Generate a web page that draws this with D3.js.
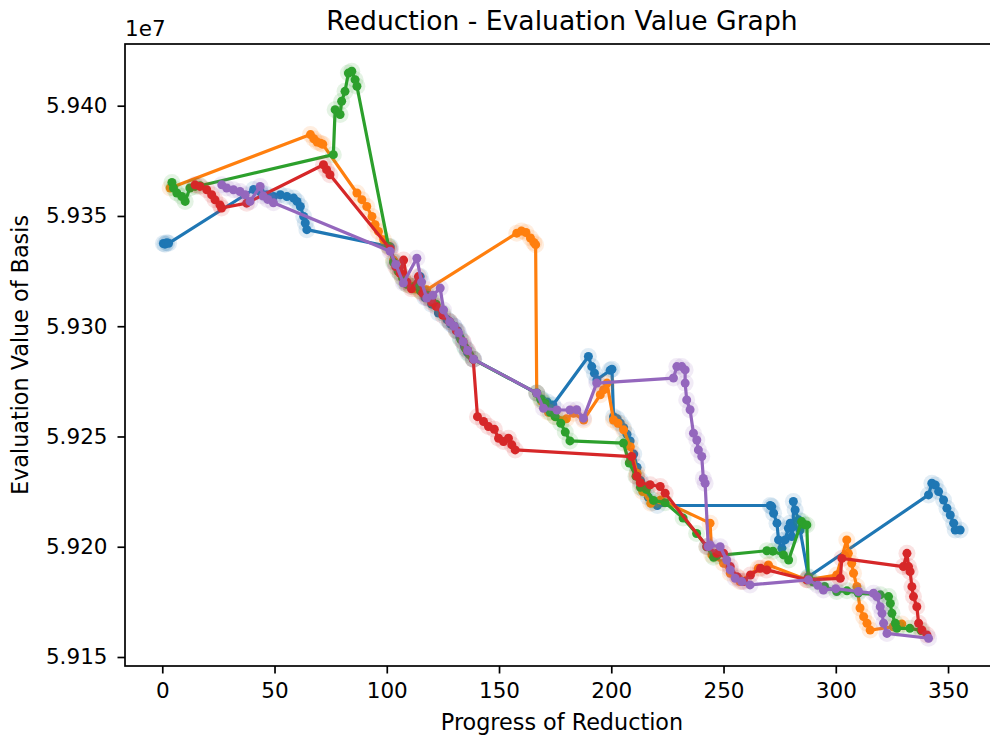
<!DOCTYPE html>
<html>
<head>
<meta charset="utf-8">
<script src="https://cdn.jsdelivr.net/npm/d3@7"></script>
<style>
  body { margin: 0; background: #fff; }
  text { font-family: "DejaVu Sans", sans-serif; fill: #000; }
</style>
</head>
<body>
<div id="chart"></div>
<script>
// Chart data, y values are raw evaluation values
var seriesNames = ["run 1", "run 2", "run 3", "run 4", "run 5"];
var seriesColors = ["#1f77b4", "#ff7f0e", "#2ca02c", "#d62728", "#9467bd"];

var blueX = [0.5, 1.2, 2.0, 2.8, 40.7, 43.7, 46.6, 49.6, 52.6, 55.5, 58.5, 60.0, 61.5, 63.0, 63.7, 64.4,
  101.6, 103.5, 106, 108, 111, 114.9, 117, 120, 123, 126.8, 128.5, 130, 131.5, 132.6, 134.5, 136, 138.7,
  166.8, 169, 171.5, 174, 189.8, 191.3, 192.5, 193.6, 199.5, 200.3, 201, 202.6, 204, 205.5, 207, 208.4,
  210, 211.5, 213, 214.5, 216.5, 218.5, 220.5, 270.8, 271.5, 272.3, 273.8, 274.5, 276.0, 277.4, 278.9,
  279.7, 280.4, 281.1, 281.1, 281.9, 283.4, 284.1, 287.8, 341.3, 342.8, 344.3, 345.8, 348.0, 349.5,
  351, 352.5, 353.2, 355.4];
var blueY = [5.93375e7, 5.93372e7, 5.93378e7, 5.93376e7, 5.9362e7, 5.9361e7, 5.93596e7, 5.93588e7,
  5.93596e7, 5.93588e7, 5.93581e7, 5.93566e7, 5.93543e7, 5.93498e7, 5.93468e7, 5.93438e7,
  5.9336e7, 5.9329e7, 5.9324e7, 5.9320e7, 5.9318e7, 5.93225e7, 5.9313e7, 5.9310e7, 5.9306e7, 5.9303e7,
  5.9301e7, 5.9300e7, 5.9298e7, 5.9295e7, 5.9291e7, 5.9288e7, 5.9285e7,
  5.92696e7, 5.9267e7, 5.92656e7, 5.92643e7, 5.92863e7, 5.92817e7, 5.92787e7, 5.92757e7, 5.9280e7,
  5.92805e7, 5.9259e7, 5.9258e7, 5.9256e7, 5.9254e7, 5.9251e7, 5.9248e7,
  5.9242e7, 5.9236e7, 5.9230e7, 5.9226e7, 5.92225e7, 5.9220e7, 5.92187e7, 5.92187e7, 5.92182e7,
  5.92152e7, 5.92107e7, 5.92031e7, 5.91993e7, 5.92031e7, 5.92084e7,
  5.92107e7, 5.92046e7, 5.92091e7, 5.92205e7, 5.92167e7, 5.92122e7, 5.92076e7, 5.91864e7, 5.92235e7,
  5.92288e7, 5.9228e7, 5.9225e7, 5.92212e7, 5.92175e7,
  5.92144e7, 5.92107e7, 5.92076e7, 5.92076e7];

var orangeX = [3.5, 66, 67.5, 69, 70.5, 71.5, 86.7, 88.9, 91.1, 93.4, 94.8, 96.3, 98.6, 100.8, 103, 105,
  107, 109, 111, 113, 115, 117.8, 157.9, 160, 162, 164, 165.5, 166.3, 166.8, 169, 172, 175, 180, 183.2,
  187.7, 195.1, 196.6, 198.1, 201, 203, 205.5, 208.5, 211.5, 214, 217.6, 222, 244, 244.8, 250, 253,
  256.7, 257.4, 265.5, 270, 287.1, 300.4, 304.9, 305.6, 307.1, 307.9, 309.4, 310.8, 312.4, 313.9,
  315.3, 325.6, 329.4];
var orangeY = [5.93627e7, 5.93869e7, 5.9385e7, 5.93835e7, 5.9383e7, 5.93825e7, 5.93604e7, 5.93574e7,
  5.93543e7, 5.93498e7, 5.9346e7, 5.9343e7, 5.93392e7, 5.93362e7, 5.9330e7, 5.9326e7,
  5.9322e7, 5.9319e7, 5.9318e7, 5.9317e7, 5.9316e7, 5.93165e7, 5.93422e7, 5.93432e7, 5.93425e7,
  5.9340e7, 5.9338e7, 5.9337e7, 5.92697e7, 5.9266e7, 5.9261e7, 5.9259e7, 5.9258e7, 5.92605e7,
  5.92575e7, 5.92689e7, 5.92712e7, 5.92742e7, 5.92575e7, 5.9256e7, 5.9253e7, 5.92454e7, 5.92333e7,
  5.9225e7, 5.92197e7, 5.92212e7, 5.92107e7, 5.91963e7, 5.91925e7, 5.9188e7,
  5.91857e7, 5.91842e7, 5.91902e7, 5.91917e7, 5.9185e7, 5.91872e7, 5.92031e7, 5.9197e7, 5.91925e7,
  5.9188e7, 5.9182e7, 5.91722e7, 5.91683e7, 5.91653e7,
  5.91622e7, 5.91637e7, 5.9165e7];

var greenX = [4.3, 5.0, 6.5, 8.7, 10.2, 12.3, 14.6, 16.8, 76.2, 77, 79.2, 79.9, 81.4, 82.9, 84.4, 85.9,
  86.7, 100.8, 103, 105, 107, 109, 112.6, 115, 118, 120, 122, 125, 128, 131, 133, 135, 137, 138.5,
  166.8, 168.5, 170.5, 172.8, 175, 177.5, 179.5, 181.6, 205.4, 208, 211, 213, 215.6, 218.8, 224, 232,
  238, 242.5, 245.6, 247, 269.3, 272, 276.7, 279, 284.8, 286, 287.1, 287.8, 290, 295, 300.4, 305, 310,
  319.8, 323.5, 324.3, 325, 326.5, 327.2, 333, 338];
var greenY = [5.93652e7, 5.93627e7, 5.93604e7, 5.93588e7, 5.93566e7, 5.93627e7, 5.93634e7, 5.93637e7,
  5.93778e7, 5.93982e7, 5.9396e7, 5.9402e7, 5.94065e7, 5.94148e7, 5.94156e7, 5.94118e7,
  5.94088e7, 5.93362e7, 5.9329e7, 5.9325e7, 5.9322e7, 5.9319e7, 5.93182e7, 5.9316e7, 5.9314e7,
  5.9312e7, 5.9310e7, 5.9306e7, 5.9302e7, 5.9298e7, 5.9294e7, 5.9290e7, 5.9287e7, 5.9285e7,
  5.92697e7, 5.9267e7, 5.9265e7, 5.9261e7, 5.9259e7, 5.9256e7, 5.9252e7, 5.9248e7, 5.9247e7,
  5.9238e7, 5.9232e7, 5.9227e7, 5.9226e7, 5.9221e7, 5.9220e7, 5.9213e7,
  5.9206e7, 5.9200e7, 5.91952e7, 5.9196e7, 5.91982e7, 5.9198e7, 5.91963e7, 5.9194e7, 5.92114e7,
  5.9210e7, 5.92099e7, 5.9186e7, 5.9184e7, 5.9182e7, 5.91797e7, 5.9180e7, 5.9179e7,
  5.91782e7, 5.91774e7, 5.91743e7, 5.91698e7, 5.91653e7, 5.9163e7, 5.9163e7, 5.9162e7];

var redX = [14.6, 16.8, 19.8, 22, 23.5, 25.7, 26.4, 37.6, 71.8, 73.2, 74.7, 101.5, 104, 106, 107.5, 109,
  111, 114.1, 116, 118, 120, 122, 125, 128, 131, 134, 136, 138.5, 140.4, 143.1, 145.3, 147.9, 149.8,
  152.0, 154.2, 155.7, 157.2, 209.1, 211.4, 212.9, 217.3, 221.8, 224, 242.6, 247, 250, 253, 256, 259,
  262, 266.5, 269.3, 287.1, 302, 302.7, 330.1, 331.7, 332.4, 333.1, 333.9, 334.6, 336.1, 336.9, 338.4,
  340.6];
var redY = [5.93641e7, 5.93634e7, 5.93619e7, 5.93596e7, 5.93573e7, 5.9355e7, 5.93536e7, 5.93558e7,
  5.93732e7, 5.9371e7, 5.93687e7, 5.9335e7, 5.9327e7, 5.9324e7, 5.9330e7, 5.9320e7,
  5.9317e7, 5.93225e7, 5.9315e7, 5.9313e7, 5.9311e7, 5.9309e7, 5.9305e7, 5.9302e7, 5.9298e7,
  5.9293e7, 5.9289e7, 5.9285e7, 5.9259e7, 5.92568e7, 5.92545e7, 5.92533e7, 5.92492e7,
  5.92477e7, 5.92492e7, 5.92462e7, 5.92439e7, 5.92409e7, 5.9232e7, 5.9229e7, 5.92281e7, 5.92273e7,
  5.92243e7, 5.92001e7, 5.9197e7, 5.91971e7, 5.9191e7, 5.91864e7, 5.91842e7,
  5.91872e7, 5.91902e7, 5.91895e7, 5.9185e7, 5.91857e7, 5.91947e7, 5.9191e7, 5.9197e7, 5.9191e7,
  5.91887e7, 5.91819e7, 5.91774e7, 5.91728e7, 5.91653e7, 5.91622e7,
  5.916e7];

var purpleX = [26.5, 28.7, 31.7, 34.6, 36.9, 39.1, 43.6, 45, 47, 49.5, 101.5, 104, 107.4, 113.4, 115.5,
  117.8, 120.5, 123.8, 125.3, 128, 130, 132, 134, 136, 138.7, 166.8, 169.8, 175.8, 181.6, 184.6, 187.6,
  193.5, 227.7, 229.2, 231.4, 232.9, 232.9, 233.6, 235.1, 236.6, 238.1, 238.8, 240.3, 241, 241.8,
  243.2, 244, 248.5, 251.4, 253, 255.2, 258.1, 261.8, 287.8, 292, 294.5, 300, 310.1, 316.8, 318.3,
  319.8, 320.6, 321.3, 322.8, 341.3];
var purpleY = [5.93641e7, 5.93627e7, 5.93619e7, 5.93611e7, 5.93596e7, 5.93566e7, 5.93634e7, 5.9359e7,
  5.93575e7, 5.9356e7, 5.9334e7, 5.9328e7, 5.93196e7, 5.93308e7, 5.9320e7,
  5.93128e7, 5.9314e7, 5.93173e7, 5.93074e7, 5.9302e7, 5.9300e7, 5.9297e7, 5.9293e7, 5.9289e7,
  5.9285e7, 5.92697e7, 5.92628e7, 5.9262e7, 5.9262e7, 5.92621e7, 5.92583e7,
  5.92742e7, 5.92765e7, 5.92817e7, 5.92817e7, 5.92802e7, 5.92742e7, 5.92666e7, 5.92621e7,
  5.92515e7, 5.92484e7, 5.92439e7, 5.92409e7, 5.9231e7, 5.92288e7,
  5.92001e7, 5.92008e7, 5.9200e7, 5.9194e7, 5.91895e7, 5.91857e7, 5.91842e7, 5.91827e7, 5.9185e7,
  5.91825e7, 5.91804e7, 5.9181e7, 5.91797e7, 5.91789e7, 5.91774e7,
  5.91728e7, 5.91698e7, 5.91653e7, 5.91607e7, 5.91585e7];

var xTicks = [0, 50, 100, 150, 200, 250, 300, 350];
var yTicks = [5.915e7, 5.920e7, 5.925e7, 5.930e7, 5.935e7, 5.940e7];

var allX = [blueX, orangeX, greenX, redX, purpleX];
var allY = [blueY, orangeY, greenY, redY, purpleY];

// Set the svg size and the axes box
var svgWidth = 990;
var svgHeight = 737;
var box = { left: 125, right: 999, top: 44, bottom: 666 };

var svg = d3.select("#chart")
  .append("svg")
  .attr("width", svgWidth)
  .attr("height", svgHeight);

// Scales (domain padded like matplotlib's 5% margins)
var xScale = d3.scaleLinear()
  .domain([-16.6, 372.7])
  .range([box.left, box.right]);

var yScale = d3.scaleLinear()
  .domain([5.914592e7, 5.942798e7])
  .range([box.bottom, box.top]);

// Build one table per series
var series = seriesNames.map(function(name, i) {
  return {
    name: name,
    color: seriesColors[i],
    points: allX[i].map(function(x, j) { return { x: x, y: allY[i][j] }; })
  };
});

var line = d3.line()
  .x(d => xScale(d.x))
  .y(d => yScale(d.y));

var plot = svg.append("g");

series.forEach(function(s) {
  var g = plot.append("g");

  // soft halo round each point
  g.selectAll("circle.halo")
    .data(s.points)
    .enter()
    .append("circle")
    .attr("class", "halo")
    .attr("cx", d => xScale(d.x))
    .attr("cy", d => yScale(d.y))
    .attr("r", 8.5)
    .attr("fill", s.color)
    .attr("opacity", 0.13);

  g.append("path")
    .datum(s.points)
    .attr("d", line)
    .attr("fill", "none")
    .attr("stroke", s.color)
    .attr("stroke-width", 3.2)
    .attr("stroke-linejoin", "round")
    .attr("stroke-linecap", "butt");

  g.selectAll("circle.dot")
    .data(s.points)
    .enter()
    .append("circle")
    .attr("class", "dot")
    .attr("cx", d => xScale(d.x))
    .attr("cy", d => yScale(d.y))
    .attr("r", 4.5)
    .attr("fill", s.color);
});

// Axes
var bottomAxis = d3.axisBottom(xScale)
  .tickValues(xTicks)
  .tickSize(7.5)
  .tickPadding(9)
  .tickFormat(d3.format("d"));

var leftAxis = d3.axisLeft(yScale)
  .tickValues(yTicks)
  .tickSize(7.5)
  .tickPadding(10)
  .tickFormat(d => (d / 1e7).toFixed(3));

var xAxisG = svg.append("g")
  .attr("transform", `translate(0, ${box.bottom})`)
  .call(bottomAxis);

var yAxisG = svg.append("g")
  .attr("transform", `translate(${box.left}, 0)`)
  .call(leftAxis);

[xAxisG, yAxisG].forEach(function(g) {
  g.select(".domain").remove();
  g.selectAll("line").attr("stroke", "#000").attr("stroke-width", 1.7);
  g.selectAll("text")
    .attr("font-family", "DejaVu Sans, sans-serif")
    .attr("font-size", "21.5px")
    .attr("fill", "#000");
});

// Spines
svg.append("rect")
  .attr("x", box.left)
  .attr("y", box.top)
  .attr("width", box.right - box.left)
  .attr("height", box.bottom - box.top)
  .attr("fill", "none")
  .attr("stroke", "#000")
  .attr("stroke-width", 1.7);

// Offset text
svg.append("text")
  .attr("x", box.left)
  .attr("y", 36)
  .attr("font-size", "21.5px")
  .text("1e7");

// Title
svg.append("text")
  .attr("x", (box.left + box.right) / 2)
  .attr("y", 30)
  .attr("text-anchor", "middle")
  .attr("font-size", "26.6px")
  .text("Reduction - Evaluation Value Graph");

// Axis labels
svg.append("text")
  .attr("x", (box.left + box.right) / 2)
  .attr("y", 730)
  .attr("text-anchor", "middle")
  .attr("font-size", "22.3px")
  .text("Progress of Reduction");

svg.append("text")
  .attr("transform", `translate(28, ${(box.top + box.bottom) / 2}) rotate(-90)`)
  .attr("text-anchor", "middle")
  .attr("font-size", "22.3px")
  .text("Evaluation Value of Basis");
</script>
</body>
</html>
